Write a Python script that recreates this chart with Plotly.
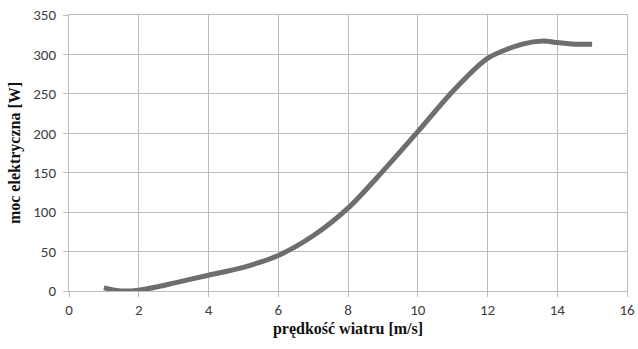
import plotly.graph_objects as go

wind_speed = [1.0, 1.5, 2.0, 2.5, 3.0, 4.0, 5.0, 6.0, 7.0, 8.0, 9.0, 10.0, 11.0, 12.0, 13.0, 13.6, 14.0, 14.5, 15.0]
power = [4, 0, 1, 5, 10, 20, 30, 45, 70, 105, 152, 202, 253, 295, 313, 317, 315, 313, 313]

x_ticks = [0, 2, 4, 6, 8, 10, 12, 14, 16]
y_ticks = [0, 50, 100, 150, 200, 250, 300, 350]

fig = go.Figure()
fig.add_trace(go.Scatter(
    x=wind_speed, y=power, mode="lines",
    line=dict(color="#6e6e6e", width=5, shape="spline", smoothing=0.8),
    showlegend=False, hoverinfo="skip",
))

grid = "#bdbdbd"
tickfont = dict(family="Carlito, Liberation Sans, sans-serif", size=15, color="#404040")
titlefont = dict(family="Liberation Serif, serif", size=16, color="#111111")

fig.update_xaxes(
    range=[0, 16], tickvals=x_ticks, ticktext=[str(v) for v in x_ticks],
    showgrid=True, gridcolor=grid, gridwidth=1,
    showline=True, linecolor=grid, mirror=True,
    ticks="outside", ticklen=5, tickcolor=grid,
    zeroline=False, tickfont=tickfont, automargin=False,
    title=dict(text="<b>prędkość wiatru [m/s]</b>", font=titlefont, standoff=4),
)
fig.update_yaxes(
    range=[0, 350], tickvals=y_ticks, ticktext=[str(v) for v in y_ticks],
    showgrid=True, gridcolor=grid, gridwidth=1,
    showline=True, linecolor=grid, mirror=True,
    ticks="outside", ticklen=5, tickcolor=grid, ticklabelstandoff=4,
    zeroline=False, tickfont=tickfont, automargin=False,
    title=dict(text="<b>moc elektryczna [W]</b>", font=titlefont, standoff=8),
)
fig.update_layout(
    width=638, height=349,
    margin=dict(l=69, r=11, t=15, b=58),
    plot_bgcolor="white", paper_bgcolor="white",
)
fig.write_html("out.html", config={"displayModeBar": False},
               post_script="document.body.style.margin='0';")
